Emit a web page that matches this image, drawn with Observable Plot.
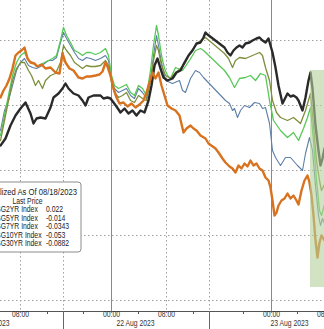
<!DOCTYPE html>
<html>
<head>
<meta charset="utf-8">
<script src="https://cdn.jsdelivr.net/npm/d3@7"></script>
<script src="https://cdn.jsdelivr.net/npm/@observablehq/plot@0.6"></script>
<style>
  html, body { margin: 0; padding: 0; background: #fff; overflow: hidden; }
  #chart { position: relative; width: 324px; height: 329px; }
  #chart svg { overflow: visible; }
</style>
</head>
<body>
<div id="chart"></div>
<script>
// x = intraday bar number (Bloomberg compresses time), y = yield normalized to 08/18/2023
const seriesNames = ["USGG2YR Index", "USGG5YR Index", "USGG7YR Index", "USGG10YR Index", "USGG30YR Index"];
const lastPrices = ["0.022", "-0.014", "-0.0343", "-0.053", "-0.0882"];
const seriesColors = ["#2a2a2a", "#7e8f3c", "#58c858", "#5d7fa6", "#d8721e"];
const seriesWidths = [2.4, 1.3, 1.3, 1.1, 2.4];

const y2 = [[0,.025],[5,.032],[10,.045],[15,.055],[20,.062],[25,.068],[30,.057],[33,.047],[36,.052],[40,.053],[45,.052],[50,.063],[53,.073],[58,.077],[62,.082],[65,.087],[68,.082],[73,.077],[78,.075],[82,.070],[85,.065],[88,.073],[93,.075],[100,.075],[103,.072],[107,.073],[110,.072],[113,.068],[116,.064],[120,.058],[124,.062],[128,.057],[132,.060],[136,.055],[140,.060],[144,.058],[148,.070],[151,.085],[154,.105],[157,.112],[160,.102],[163,.093],[167,.090],[172,.092],[176,.098],[180,.100],[184,.108],[188,.115],[192,.120],[196,.127],[200,.128],[203,.133],[205,.138],[207,.136],[224,.123],[227,.118],[230,.115],[233,.120],[236,.123],[239,.125],[242,.123],[245,.127],[249,.128],[252,.130],[256,.132],[259,.133],[262,.130],[265,.128],[268,.132],[270,.125],[272,.118],[275,.103],[278,.085],[282,.067],[285,.073],[287,.077],[290,.074],[293,.075],[296,.073],[298,.070],[302,.060],[305,.073],[308,.090],[310,.098],[312,.082],[315,.045],[318,.020],[320,.005],[322,.012],[324,.022]];

const y5 = [[0,.030],[4,.050],[8,.070],[12,.090],[16,.102],[20,.108],[24,.108],[28,.100],[31,.095],[35,.085],[38,.090],[42,.082],[45,.090],[50,.095],[55,.097],[60,.108],[63,.125],[66,.120],[70,.115],[74,.108],[78,.105],[82,.102],[86,.105],[90,.104],[95,.104],[100,.105],[105,.110],[108,.105],[111,.088],[114,.078],[118,.073],[122,.075],[126,.078],[130,.070],[134,.068],[138,.075],[142,.072],[146,.070],[150,.090],[153,.110],[156,.125],[158,.120],[161,.105],[165,.095],[170,.092],[175,.098],[180,.102],[185,.108],[190,.118],[195,.125],[200,.130],[205,.133],[224,.117],[228,.112],[232,.103],[235,.110],[239,.113],[245,.112],[252,.115],[259,.118],[262,.115],[265,.103],[269,.090],[272,.070],[276,.058],[280,.053],[287,.050],[293,.053],[300,.047],[305,.060],[310,.077],[313,.045],[316,.010],[319,-.010],[321,-.020],[324,-.014]];

const y7 = [[0,.035],[4,.055],[8,.075],[12,.095],[16,.108],[20,.115],[24,.118],[28,.110],[32,.108],[36,.104],[40,.106],[44,.108],[48,.110],[52,.112],[56,.115],[60,.130],[63,.143],[66,.135],[70,.128],[74,.120],[78,.118],[82,.115],[86,.118],[90,.118],[95,.116],[100,.118],[105,.122],[108,.115],[111,.095],[114,.085],[118,.082],[122,.084],[126,.086],[130,.078],[134,.075],[138,.085],[142,.082],[146,.075],[150,.100],[153,.125],[156,.145],[158,.135],[161,.115],[164,.102],[167,.095],[170,.092],[175,.103],[182,.100],[189,.110],[195,.120],[200,.122],[203,.120],[224,.100],[229,.093],[234,.083],[239,.092],[245,.093],[250,.095],[255,.090],[260,.097],[265,.095],[269,.070],[273,.050],[280,.040],[287,.033],[293,.038],[298,.030],[303,.042],[307,.053],[310,.063],[313,.030],[316,-.010],[319,-.040],[321,-.045],[324,-.034]];

const y10 = [[0,.040],[4,.060],[8,.070],[12,.085],[16,.100],[20,.108],[24,.112],[28,.105],[32,.103],[36,.102],[40,.104],[44,.107],[48,.110],[52,.110],[56,.113],[60,.128],[63,.138],[66,.132],[70,.125],[74,.118],[78,.112],[82,.110],[86,.113],[90,.112],[95,.110],[100,.112],[105,.115],[108,.110],[111,.090],[114,.082],[118,.078],[122,.080],[126,.082],[130,.075],[134,.072],[138,.082],[142,.078],[146,.072],[150,.090],[153,.115],[156,.135],[158,.125],[161,.108],[165,.090],[172,.087],[179,.090],[182,.080],[185,.078],[190,.092],[195,.100],[199,.098],[203,.093],[225,.070],[229,.067],[232,.060],[234,.062],[237,.053],[240,.060],[244,.065],[249,.063],[254,.068],[259,.067],[262,.062],[265,.063],[269,.047],[272,.020],[275,.013],[280,.005],[285,.013],[290,.013],[297,.005],[302,.000],[305,.017],[309,.033],[312,.020],[315,-.015],[318,-.045],[320,-.055],[322,-.048],[324,-.053]];

const y30 = [[0,.073],[3,.080],[6,.085],[9,.092],[12,.102],[15,.115],[18,.118],[21,.120],[24,.123],[27,.112],[30,.108],[34,.107],[37,.104],[41,.106],[45,.102],[50,.103],[55,.098],[59,.097],[62,.117],[65,.108],[69,.102],[73,.100],[78,.093],[82,.092],[86,.094],[90,.094],[95,.095],[99,.096],[102,.099],[105,.108],[107,.104],[110,.095],[113,.082],[116,.073],[119,.067],[123,.068],[127,.064],[131,.067],[135,.063],[139,.066],[143,.070],[146,.078],[149,.088],[152,.098],[155,.092],[158,.098],[161,.085],[164,.075],[167,.065],[171,.062],[175,.060],[179,.055],[183,.038],[186,.042],[190,.045],[193,.042],[196,.040],[200,.035],[205,.032],[208,.027],[215,.022],[218,.018],[222,.012],[225,.008],[229,.004],[232,.002],[235,-.002],[238,.005],[241,.002],[244,.007],[247,.004],[250,.010],[253,.005],[256,.007],[259,.002],[262,.000],[265,-.007],[268,-.010],[270,-.017],[272,-.030],[274,-.045],[276,-.042],[278,-.035],[281,-.030],[284,-.028],[287,-.023],[290,-.028],[293,-.025],[296,-.030],[298,-.034],[301,-.020],[304,-.010],[307,-.005],[309,-.012],[311,-.025],[313,-.045],[315,-.070],[317,-.087],[319,-.072],[321,-.065],[324,-.070]];

const seriesData = [y2, y5, y7, y10, y30];

const tickBars = [20, 111, 166, 271, 325];
const tickLabels = ["08:00", "00:00", "08:00", "00:00", "08:00"];
const minorBars = [47, 83, 138, 193, 243, 297];
const dayDividerBars = [63, 209];
const dayBoundaryBars = [111, 271];
const dottedGridBars = [20, 63, 166, 209];
const dateLabels = ["21 Aug 2023", "22 Aug 2023", "23 Aug 2023"];
const dateLabelBars = [-10, 135, 289];
const gridValues = [0.13, 0.065, 0, -0.065, -0.13];
const highlight = {x1: 310, x2: 340, y1: -0.117, y2: 0.100};
const xDomain = [0, 324];
const yDomain = [-0.141, 0.170];

const font = "'Liberation Sans', Arial, sans-serif";
const squeeze = 0.8; // Bloomberg's narrow UI font

const rows = [];
seriesData.forEach((s, k) => s.forEach(([b, v]) => rows.push({bar: b, value: v, k})));
const drawOrder = [3, 2, 1, 0, 4];

const lineMarks = drawOrder.map(k => Plot.line(rows.filter(r => r.k === k), {
  x: "bar", y: "value", stroke: seriesColors[k], strokeWidth: seriesWidths[k],
  strokeLinejoin: "round", curve: "linear"
}));

const chart = Plot.plot({
  width: 324, height: 329,
  marginLeft: 0, marginRight: 0, marginTop: 0, marginBottom: 18,
  style: {fontFamily: font, fontSize: "8.5px", color: "#333", background: "#fff"},
  x: {domain: xDomain, axis: null},
  y: {domain: yDomain, axis: null},
  marks: [
    Plot.ruleY(gridValues, {stroke: "#a0a0a0", strokeDasharray: "1.5,2.5", strokeWidth: 1}),
    Plot.ruleX(dottedGridBars, {stroke: "#a0a0a0", strokeDasharray: "1.5,2.5", strokeWidth: 1}),
    Plot.ruleX(dayBoundaryBars, {stroke: "#8a8a8a", strokeWidth: 1}),
    ...lineMarks,
    Plot.rect([highlight], {x1: "x1", x2: "x2", y1: "y1", y2: "y2", fill: "#b3d09a", fillOpacity: 0.6}),
    Plot.ruleY([yDomain[0]], {stroke: "#555", strokeWidth: 1}),
    Plot.axisX({ticks: minorBars, tickSize: 3, tickFormat: () => "", stroke: "#555"}),
    Plot.axisX({ticks: dayDividerBars, tickSize: 18, tickFormat: () => "", stroke: "#666"}),
    Plot.text(tickLabels, {x: (d, i) => tickBars[i], frameAnchor: "bottom", dy: 5, text: d => d, fontSize: 8.5, fill: "#333"}),
    Plot.text(dateLabels, {x: (d, i) => dateLabelBars[i], frameAnchor: "bottom", dy: 14.5, text: d => d, fontSize: 8.5, fill: "#333"})
  ]
});
document.getElementById("chart").appendChild(chart);

// legend (Bloomberg style box, partly cropped at the left edge)
const svg = d3.select(chart);
const lg = svg.append("g").attr("font-family", font).attr("font-size", 8.5).attr("fill", "#222");
lg.append("rect").attr("x", -40).attr("y", 182).attr("width", 121).attr("height", 70)
  .attr("rx", 3).attr("fill", "#fff").attr("stroke", "#8c8c8c").attr("stroke-width", 1);
lg.append("text").attr("x", 27).attr("y", 193).attr("text-anchor", "middle").attr("dominant-baseline", "middle")
  .attr("data-squeeze", 0.9).text("Normalized As Of 08/18/2023");
lg.append("text").attr("x", 27.5).attr("y", 201.5).attr("text-anchor", "middle").attr("dominant-baseline", "middle")
  .text("Last Price");
seriesNames.forEach((n, i) => {
  const yy = 210 + i * 8.5;
  lg.append("text").attr("x", -14).attr("y", yy).attr("text-anchor", "start").attr("dominant-baseline", "middle").text(n);
  lg.append("text").attr("x", 46).attr("y", yy).attr("text-anchor", "start").attr("dominant-baseline", "middle").text(lastPrices[i]);
});

// condense every label horizontally to mimic the narrow terminal font
svg.selectAll("text").each(function () {
  const w = this.getComputedTextLength();
  const f = +(this.getAttribute("data-squeeze") || squeeze);
  if (w > 0) {
    this.setAttribute("textLength", (w * f).toFixed(2));
    this.setAttribute("lengthAdjust", "spacingAndGlyphs");
  }
});
</script>
</body>
</html>
